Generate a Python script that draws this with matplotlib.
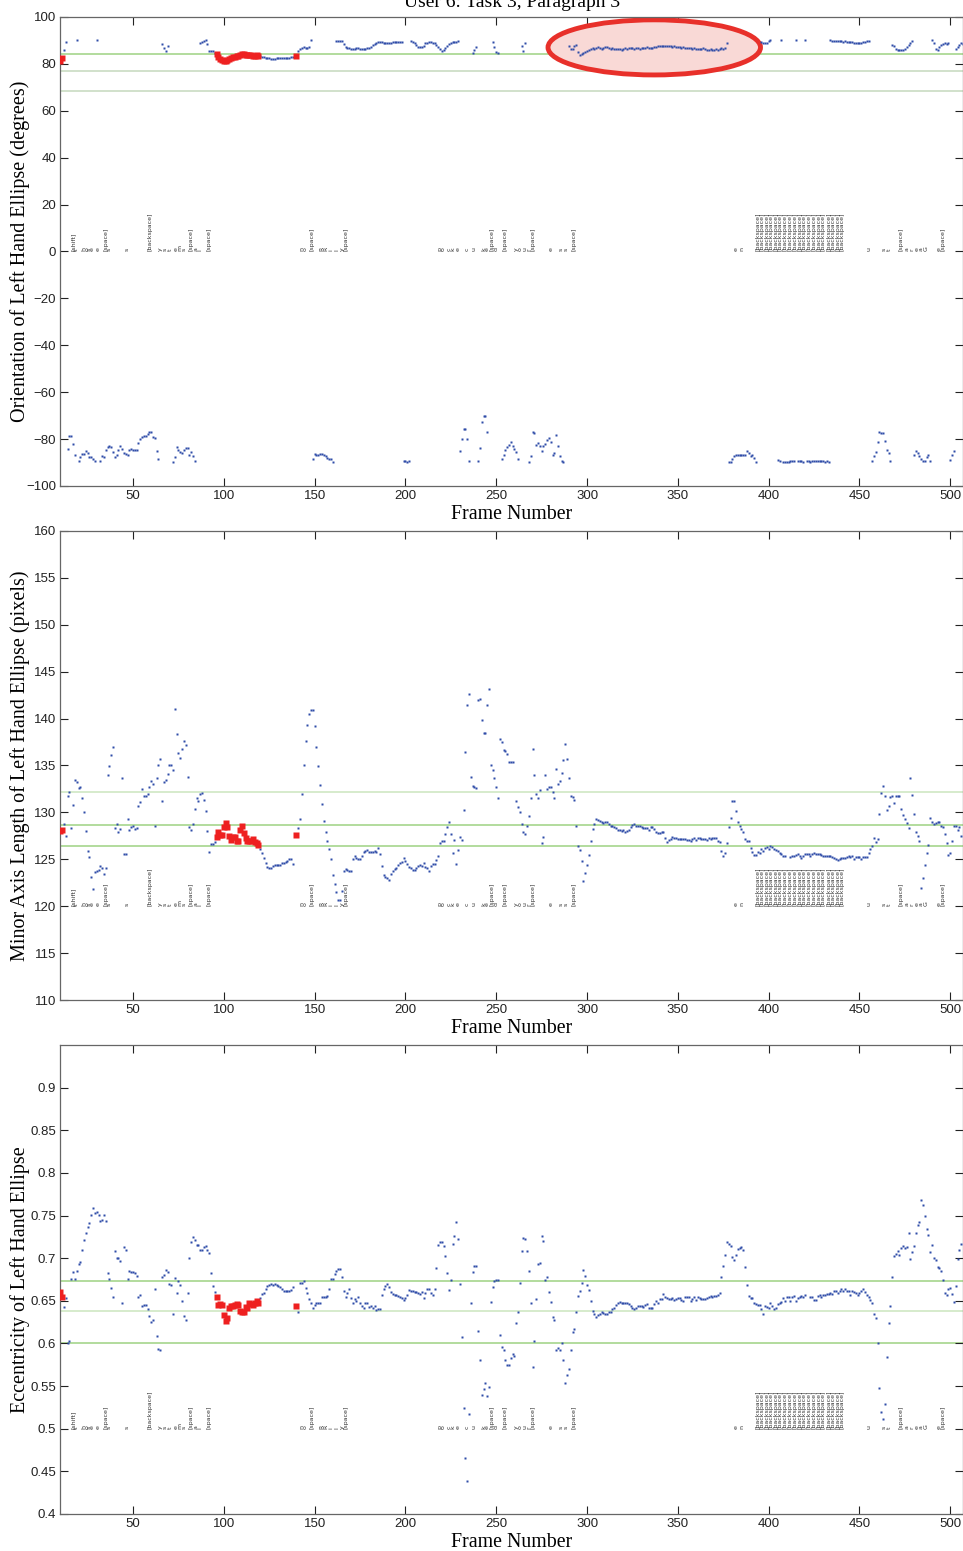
import numpy as np
import matplotlib
matplotlib.use('Agg')
import matplotlib.pyplot as plt
from matplotlib.patches import Ellipse

# ---------------- data ----------------
title = "User 6: Task 3, Paragraph 3"
x_label = "Frame Number"
x_ticks = [50, 100, 150, 200, 250, 300, 350, 400, 450, 500]

# frames drawn as enlarged red squares
red_frames = [10, 11] + list(range(96, 120)) + [140]

# orientation (degrees): (first frame, consecutive values)
orient_segments = [
    (10, [81.0, 82.5, 85.9, 89.5]),
    (14, [-84.2, -78.9, -78.6, -82.0, -87.0]),
    (19, [90.0]),
    (20, [-89.2, -87.6, -86.3, -86.2, -85.2, -85.9, -87.6, -87.6, -88.7, -89.2]),
    (30, [90.0]),
    (32, [-89.2, -87.3, -87.6, -84.5, -83.5, -82.8, -83.5, -85.5, -87.6, -86.8, -84.8, -82.8,
          -84.2, -85.9, -86.2, -86.6, -84.8, -84.2, -84.5, -84.5, -84.5, -81.7, -80.0, -79.2,
          -78.9, -78.6, -77.9, -77.2, -77.2, -79.2, -79.4, -85.2, -88.7]),
    (66, [88.5, 86.7, 85.5, 87.6]),
    (72, [-89.9, -87.6, -83.4, -84.5, -85.5, -85.9, -84.8, -83.8, -83.8, -86.6, -85.6, -87.3, -89.2]),
    (87, [89.0, 89.1, 89.6, 90.2, 88.4, 85.5, 85.5, 85.3, 84.8]),
    (96, [84.0, 83.0, 82.2, 81.5, 81.2, 81.3, 81.7, 82.1, 82.5, 82.8, 83.1, 83.3, 83.5, 83.8,
          84.3, 84.0, 83.6, 83.6, 83.8, 83.7, 83.4, 83.4, 83.6, 83.3]),
    (120, [83.2, 83.0, 82.8, 82.6, 82.4, 82.3, 82.1, 82.0, 82.2, 82.4, 82.5, 82.3, 82.3, 82.5,
           82.4, 82.6, 82.4, 82.7, 83.0]),
    (140, [83.4, 85.5, 86.2, 86.8, 87.0, 86.8, 86.9, 87.2, 90.2]),
    (149, [-88.7, -86.2, -86.6, -86.6, -86.3, -86.3, -87.0, -87.3, -88.0, -88.4, -88.4, -89.6]),
    (162, [89.8, 89.8, 89.8, 89.6, 88.5, 87.3, 86.8, 86.6, 86.3, 86.2, 86.5, 86.6, 86.6, 86.4,
           86.3, 86.3, 86.5, 86.6, 86.9, 87.3, 88.0, 88.6, 89.0, 89.3, 89.4, 89.4, 89.0, 88.7,
           88.7, 88.9, 89.0, 89.1, 89.1, 89.1, 89.2, 89.2, 89.2]),
    (199, [-89.4, -89.4, -89.6, -89.4]),
    (203, [89.6, 89.2, 88.7, 88.0, 87.3, 87.0, 87.0, 87.8, 88.7, 89.0, 89.2, 89.4, 89.0, 88.7,
           88.2, 87.3, 86.5, 85.5, 86.0, 86.6, 87.5, 88.3, 88.8, 89.2, 89.4, 89.5, 89.6]),
    (230, [-85.2, -80.0, -75.6, -75.6, -80.0, -89.4]),
    (237, [84.4, 86.0, 87.3]),
    (240, [-89.4, -83.8, -72.8, -70.0, -70.0, -77.0]),
    (248, [89.4, 87.3, 85.2, 84.8]),
    (253, [-88.7, -86.6, -84.5, -83.5, -82.4, -81.4, -82.8, -84.2, -85.6, -88.7]),
    (264, [87.6, 85.5, 89.0]),
    (268, [-89.6, -87.3, -76.9, -77.5, -82.4, -81.7, -82.8, -85.2, -83.1, -82.0, -80.3, -79.6,
           -81.3, -86.6, -85.9, -78.2, -83.1, -87.3, -89.4, -89.6]),
    (290, [87.6, 86.2, 86.5, 87.6, 88.0, 85.0, 83.6, 84.0, 84.5, 85.0, 85.5, 86.0, 86.5, 86.8,
           86.3, 86.6, 87.0, 86.7, 86.4, 86.8, 87.3, 87.0, 86.8, 86.5, 86.7, 86.4, 86.2, 86.5,
           86.3, 86.1, 86.4, 86.6, 86.3, 86.6, 86.9, 86.7, 86.5, 86.8, 86.6, 86.4, 86.6, 86.9,
           86.7, 87.0, 86.8, 86.6, 86.8, 87.0, 87.2, 87.5, 87.8, 87.6, 87.8, 87.7, 87.6, 87.8,
           87.5, 87.3, 87.5, 87.2, 87.0, 87.2, 86.9, 87.1, 86.8, 86.6, 86.9, 86.7, 86.5, 86.7,
           86.4, 86.2, 86.5, 86.3, 86.6, 86.4, 86.1, 85.9, 86.2, 85.8, 86.0, 86.3, 86.1, 86.4,
           86.6, 86.5, 86.8, 89.0]),
    (378, [-89.6, -89.6, -88.7, -87.3, -87.0, -86.6, -86.6, -87.0, -87.0, -87.0, -84.9, -85.9,
           -87.3, -87.0, -88.0, -89.7]),
    (396, [89.5, 89.0, 88.7, 89.0, 89.8, 90.0]),
    (405, [-89.0, -89.5]),
    (407, [90.0]),
    (408, [-89.6, -89.8, -89.6, -89.7, -89.5, -89.3, -89.5]),
    (415, [90.0]),
    (416, [-89.3, -89.2, -89.5, -89.6]),
    (420, [90.0]),
    (421, [-89.5, -89.3, -89.6, -89.4, -89.2, -89.3, -89.5, -89.3, -89.2, -89.4, -89.6, -89.5, -89.8]),
    (434, [90.0, 89.8, 89.8, 89.7, 89.8, 89.6, 89.6, 89.5, 89.6, 89.4, 89.4, 89.3, 89.2, 89.0,
           88.8, 88.7, 88.9, 89.0, 89.2, 89.4, 89.6, 89.8]),
    (457, [-89.2, -87.3, -85.6, -81.3, -77.0, -77.5, -77.5, -81.0, -84.8, -85.9, -89.4]),
    (468, [88.2, 87.5, 86.5, 86.0, 85.7, 85.7, 85.8, 86.5, 87.2, 88.0, 89.0, 89.8]),
    (480, [-87.0, -85.2, -85.9, -87.3, -88.7, -89.4, -89.2, -87.7, -86.6, -89.4]),
    (490, [90.0, 88.7, 86.5, 85.7, 87.3, 88.2, 88.5, 88.7, 88.5, 88.7]),
    (500, [-89.0, -86.6, -85.2]),
    (503, [86.5, 87.3, 88.0, 89.0, 88.5]),
]

# minor axis length (pixels)
minor_segments = [
    (10, [128.0, 128.1, 128.8, 127.5, 131.7, 132.2, 128.3, 130.8, 133.5, 133.2, 132.6, 132.7,
          131.5, 130.0, 128.0, 125.9, 125.2, 123.1, 121.8, 123.6, 123.8, 123.9, 124.3, 124.1,
          123.4, 124.1, 134.0, 134.9, 136.1, 137.0, 128.3, 128.8, 127.9, 128.2, 133.7, 125.6,
          125.6, 129.3, 128.1, 128.4, 128.5, 128.2, 128.3, 130.7, 131.1, 132.5, 131.8, 131.7,
          132.0, 132.7, 133.3, 133.0, 128.5, 133.7, 135.0, 135.7, 131.2, 133.2, 133.5, 134.1,
          135.0, 135.1, 134.5, 141.0, 138.4, 136.3, 135.8, 136.8, 137.6, 137.2, 133.8, 128.4,
          128.1, 128.8, 130.4, 131.5, 131.2, 132.0, 132.1, 131.3, 130.1, 128.0, 125.8, 126.6,
          126.6, 126.8]),
    (96, [127.4, 127.9, 127.6, 127.6, 128.4, 128.9, 128.4, 127.5, 127.1, 127.4, 127.4, 127.0,
          127.0, 128.1, 128.5, 127.8, 127.3, 127.0, 127.0, 126.9, 127.2, 126.8, 126.7, 126.5]),
    (120, [126.1, 125.7, 125.1, 124.6, 124.2, 124.1, 124.1, 124.3, 124.4, 124.4, 124.4, 124.4,
           124.6, 124.6, 124.7, 124.8, 125.0, 125.0, 124.5]),
    (140, [127.6, 128.3, 129.3, 132.0, 135.0, 137.6, 139.3, 140.5, 140.9, 140.9, 139.2, 137.0,
           134.9, 132.9, 130.9, 129.1, 127.9, 127.0, 126.1, 125.0, 123.3, 122.4, 121.5, 120.7,
           120.7, 121.6, 123.7, 124.0, 123.9, 123.8, 123.8, 125.0, 125.4, 125.1, 125.0]),
    (175, [125.0, 125.4, 125.8, 125.9, 126.0, 125.8, 125.8, 125.8, 125.9, 125.8, 126.2, 125.6,
           124.3, 123.3, 123.1, 123.0, 122.8, 123.4, 123.8, 124.0, 124.1, 124.4, 124.6, 124.7,
           125.1, 124.8, 124.5, 124.2, 124.1, 123.9, 123.9, 124.1, 124.3, 124.4, 124.3, 124.6,
           124.2, 124.1, 123.7, 124.3, 124.5, 124.5, 124.9, 125.3, 126.7, 127.0, 127.0, 127.7,
           128.4, 129.0, 127.7, 125.7, 127.1, 124.5, 126.0, 127.4, 127.1, 130.3, 136.4, 141.4,
           142.6, 133.8, 132.8, 132.7, 132.6, 142.0, 142.1, 139.9, 138.5, 138.5, 141.5, 143.2,
           135.1, 134.5, 133.7, 132.7, 131.5, 137.8, 137.5, 136.7, 136.5, 136.2, 135.4, 135.4,
           135.4]),
    (261, [131.2, 130.6, 130.0, 128.8, 127.9, 127.7, 128.5, 129.6, 131.5, 136.8, 134.0, 132.0,
           131.5, 132.4, 126.7, 127.4, 134.0, 132.5, 132.7, 132.7, 132.2, 131.5, 134.6, 133.0,
           133.4, 134.2, 135.6, 137.3, 135.7, 133.7, 131.8, 131.6, 131.3, 128.5, 126.4, 126.0,
           124.8, 122.7, 123.5, 124.4, 125.5, 126.9, 128.2, 128.8, 129.3, 129.2, 129.1, 129.0,
           128.9, 129.0, 129.0, 128.8, 128.5, 128.6, 128.4, 128.3, 128.1, 128.1, 128.0, 128.1,
           127.9, 128.0, 128.1, 128.4, 128.7, 128.8, 128.6, 128.5, 128.5, 128.4, 128.3, 128.3,
           128.3, 128.1, 128.4, 128.4, 128.2, 127.9, 127.8]),
    (340, [127.8, 127.9, 127.9, 127.3, 126.8, 127.1, 127.2, 127.4, 127.3, 127.3, 127.2, 127.2,
           127.2, 127.2, 127.2, 127.1, 127.1, 127.0, 127.2, 127.3, 127.1, 127.3, 127.3, 127.2,
           127.2, 127.2, 127.1, 127.3, 127.2, 127.3, 127.3, 127.3, 127.0, 126.8, 125.9, 125.4,
           125.7, 126.7, 128.4, 129.4, 131.2, 131.2, 130.1, 129.0, 128.6, 128.2, 127.9, 127.2,
           126.9, 126.9, 126.2, 125.8, 125.5, 125.5, 125.8, 125.7, 126.1, 125.9, 126.2, 126.3,
           126.1, 126.4, 126.3, 126.1, 126.0, 125.9, 125.7, 125.6, 125.4, 125.3]),
    (412, [125.2, 125.3, 125.4, 125.5, 125.6, 125.4, 125.1, 125.4, 125.6, 125.6, 125.6, 125.4,
           125.6, 125.7, 125.6, 125.6, 125.6, 125.5, 125.3, 125.3, 125.3, 125.3, 125.3, 125.2,
           125.1, 125.0, 124.9, 125.0, 125.1, 125.1, 125.1, 125.2, 125.3, 125.2, 125.4, 125.0,
           125.2, 125.2, 125.2, 125.0, 125.2, 125.2, 125.2, 125.7, 126.1, 126.4, 127.3, 126.8,
           127.2, 129.8, 132.1, 132.8, 131.8, 130.3, 130.7, 131.6, 131.8, 131.0, 131.8, 131.8,
           131.7, 130.4, 129.7, 129.3, 128.9, 128.3, 133.7, 131.9, 129.8, 127.9, 127.5, 126.9,
           121.9, 123.0, 124.4, 125.7, 126.5, 129.4, 129.0, 128.8, 128.9, 129.0, 129.0, 128.5,
           128.4, 127.7, 126.7, 125.5, 125.7, 127.0, 128.5, 128.5, 128.1, 128.4, 127.5]),
]

# eccentricity
ecc_segments = [
    (10, [0.660, 0.655, 0.643, 0.653, 0.601, 0.603, 0.675, 0.684, 0.676, 0.685, 0.693, 0.696,
          0.710, 0.721, 0.729, 0.737, 0.741, 0.751, 0.759, 0.753, 0.754, 0.751, 0.743, 0.745,
          0.751, 0.744, 0.683, 0.676, 0.665, 0.655, 0.708, 0.700, 0.700, 0.697, 0.648, 0.713,
          0.710, 0.676, 0.685, 0.684, 0.684, 0.683, 0.679, 0.655, 0.657, 0.644, 0.645, 0.645,
          0.640, 0.632, 0.625, 0.627, 0.664, 0.609, 0.594, 0.592, 0.678, 0.680, 0.686, 0.684,
          0.670, 0.669, 0.634, 0.677, 0.659, 0.673, 0.669, 0.650, 0.632, 0.628, 0.659, 0.700,
          0.719, 0.725, 0.721, 0.716, 0.715, 0.710, 0.709, 0.713, 0.714, 0.710, 0.706, 0.683,
          0.667, 0.660]),
    (96, [0.654, 0.645, 0.646, 0.645, 0.633, 0.626, 0.630, 0.641, 0.644, 0.644, 0.645, 0.646,
          0.645, 0.638, 0.637, 0.637, 0.643, 0.642, 0.647, 0.646, 0.645, 0.647, 0.650, 0.648]),
    (120, [0.653, 0.658, 0.659, 0.664, 0.667, 0.668, 0.670, 0.668, 0.670, 0.668, 0.667, 0.666,
           0.664, 0.662, 0.662, 0.662, 0.662, 0.663, 0.666]),
    (140, [0.644, 0.637, 0.671, 0.671, 0.673, 0.665, 0.659, 0.652, 0.648, 0.642, 0.645, 0.647,
           0.647, 0.647, 0.655, 0.655, 0.655, 0.656, 0.664, 0.675, 0.675, 0.682, 0.685, 0.687,
           0.687, 0.678, 0.661, 0.655, 0.659, 0.664, 0.653, 0.648, 0.652, 0.650, 0.654, 0.648,
           0.644, 0.642, 0.647, 0.648, 0.643, 0.644, 0.641, 0.644, 0.639, 0.640, 0.640, 0.657,
           0.664, 0.667, 0.670, 0.666, 0.660, 0.658, 0.657, 0.657, 0.656, 0.654, 0.653, 0.651,
           0.653, 0.657, 0.663, 0.661, 0.661, 0.660, 0.660, 0.659, 0.658, 0.660, 0.653, 0.659,
           0.664, 0.664, 0.659, 0.657, 0.664, 0.689, 0.716, 0.719, 0.719, 0.714, 0.702, 0.683,
           0.663, 0.674, 0.717, 0.726, 0.742, 0.722, 0.670, 0.607, 0.524, 0.466, 0.439, 0.517,
           0.647, 0.684, 0.691, 0.691, 0.615, 0.581, 0.540, 0.547, 0.554, 0.538, 0.549, 0.649,
           0.666, 0.673, 0.674, 0.674]),
    (252, [0.610, 0.596, 0.592, 0.580, 0.575, 0.575, 0.583, 0.588, 0.585, 0.624, 0.637, 0.671,
           0.708, 0.724, 0.722, 0.708, 0.685, 0.648, 0.572, 0.603, 0.652, 0.693, 0.694, 0.726,
           0.720, 0.674, 0.678, 0.660, 0.649, 0.631, 0.628, 0.592, 0.595, 0.592, 0.601, 0.581,
           0.554, 0.563, 0.570, 0.592, 0.613, 0.617, 0.637, 0.656, 0.662, 0.671, 0.686, 0.679,
           0.668, 0.663, 0.650, 0.638, 0.635, 0.631, 0.633, 0.634, 0.637, 0.636, 0.635, 0.635,
           0.637, 0.637, 0.640, 0.642, 0.645, 0.647, 0.649, 0.648, 0.647, 0.647, 0.648, 0.646,
           0.644, 0.642, 0.640, 0.642, 0.644, 0.644, 0.644, 0.643, 0.645, 0.646, 0.642, 0.642,
           0.642, 0.646, 0.650, 0.648, 0.652, 0.652, 0.658, 0.655, 0.653, 0.652, 0.652, 0.653,
           0.651, 0.652, 0.653, 0.653, 0.651, 0.650, 0.654, 0.654, 0.655, 0.650, 0.652, 0.654,
           0.651, 0.654, 0.653, 0.652, 0.652, 0.652, 0.653, 0.655, 0.656, 0.655, 0.656, 0.656,
           0.657, 0.659, 0.678, 0.691, 0.704, 0.719, 0.717, 0.714, 0.701, 0.698, 0.704, 0.711,
           0.712, 0.713, 0.709, 0.690, 0.668, 0.656, 0.653, 0.653, 0.647, 0.646, 0.645, 0.645,
           0.640, 0.634, 0.644, 0.643, 0.642, 0.647, 0.644, 0.640, 0.642, 0.646, 0.647, 0.649,
           0.653, 0.650, 0.654, 0.655, 0.650, 0.655, 0.656, 0.650, 0.653, 0.655, 0.656, 0.655,
           0.657]),
    (423, [0.654, 0.655, 0.651, 0.651, 0.656, 0.657, 0.655, 0.657, 0.657, 0.658, 0.658, 0.659,
           0.658, 0.662, 0.662, 0.659, 0.662, 0.664, 0.662, 0.664, 0.662, 0.661, 0.657, 0.662,
           0.660, 0.659, 0.657, 0.659, 0.661, 0.664, 0.660, 0.657, 0.655, 0.651, 0.647, 0.635,
           0.630, 0.601, 0.548, 0.520, 0.511, 0.529, 0.584, 0.624, 0.644, 0.678, 0.703, 0.705,
           0.708, 0.704, 0.712, 0.714, 0.712, 0.713, 0.730, 0.699, 0.707, 0.714, 0.729, 0.739,
           0.742, 0.768, 0.762, 0.749, 0.734, 0.727, 0.707, 0.715, 0.700, 0.698, 0.690, 0.688,
           0.685, 0.674, 0.659, 0.657, 0.664, 0.665, 0.658, 0.649, 0.667, 0.699, 0.710, 0.717]),
]

orient_levels = [84.2, 77.0, 68.4]
minor_levels = [132.2, 128.7, 126.4]
ecc_levels = [0.673, 0.638, 0.600]

# keystroke annotations
key_frames = [17, 19, 23, 24.5, 26, 27.5, 31, 35, 37, 47, 59.5, 65, 67.5, 70.5, 74, 76, 78, 82,
              84.5, 87, 92, 143, 145, 148.5, 154, 156, 159, 162, 165, 167,
              219, 221, 224, 226, 229, 234, 237.5, 243, 245, 247.5, 250, 255, 261, 263, 266, 268,
              270, 280, 286, 288.5, 293,
              382, 385.5, 394, 396.5, 399, 401.5, 404, 406.5, 409, 412, 414.5, 417, 419.5, 422,
              425, 427.5, 430, 433, 435.5, 438, 440.5, 455, 463.5, 466.5, 473, 476.5, 479, 481.5,
              484, 486.5, 494, 496, 498.5]
key_labels = ['[shift]', 't', 'h', 'o', 's', 'e', 'e', '[space]', 's', 's', '[backspace]', 'y',
              's', 't', 'e', 'm', 's', '[space]', 'a', 'l', '[space]', 'n', 'o', '[space]', 'R',
              'R', 'i', 'l', 'y', '[space]',
              'p', 'o', 'c', 'k', 'e', 'c', 'u', 'k', 'e', '[space]', 'd', '[space]', 'y', 'o',
              'u', 'r', '[space]', 'e', 's', 's', '[space]',
              'e', 'n'] + ['[backspace]'] * 19 + ['u', 's', 't', '[space]', 'a', 'r', 'e', 'a',
              'G', 'e', '[space]']

# ---------------- drawing ----------------
BLUE = '#2f4ca8'
RED = '#ee2020'
GREEN = '#a6d58c'
LIGHT_GREEN = '#cfe8c4'
SERIF = ['Liberation Serif', 'DejaVu Serif']
SANS = ['Liberation Sans', 'DejaVu Sans']
KEYFONT = ['DejaVu Sans']

plt.rcParams['font.family'] = SANS

fig = plt.figure(figsize=(9.63, 15.51), dpi=100)

def expand(segs):
    xs, ys = [], []
    for start, vals in segs:
        xs.extend(range(start, start + len(vals)))
        ys.extend(vals)
    return np.array(xs, float), np.array(ys, float)

panels = [
    (orient_segments, orient_levels, [GREEN, '#c9dcc2', '#c9dcc2'], (-100, 100),
     np.arange(-100, 101, 20), "Orientation of Left Hand Ellipse (degrees)", 0.0, [0.6867, 0.3024]),
    (minor_segments, minor_levels, [LIGHT_GREEN, GREEN, GREEN], (110, 160),
     np.arange(110, 161, 5), "Minor Axis Length of Left Hand Ellipse (pixels)", 120.0, [0.35525, 0.3024]),
    (ecc_segments, ecc_levels, [GREEN, LIGHT_GREEN, GREEN], (0.4, 0.95),
     np.round(np.arange(0.4, 0.91, 0.05), 2), "Eccentricity of Left Hand Ellipse", 0.5, [0.02386, 0.3024]),
]

for i, (segs, levels, lcols, ylim, yticks, ylab, key_y, (bot, h)) in enumerate(panels):
    ax = fig.add_axes([0.0627, bot, 0.9373, h])
    x, y = expand(segs)
    for lv, lc in zip(levels, lcols):
        ax.axhline(lv, color=lc, lw=1.2, zorder=1)
    if i == 0:
        ell = Ellipse((337, 87), 117, 23.5, facecolor='#f9d9d6', edgecolor='#e8302a',
                      lw=3.5, zorder=2)
        ax.add_patch(ell)
    ax.plot(x, y, 's', ms=2.1, color=BLUE, mec='none', zorder=3)
    rmask = np.isin(x, red_frames)
    ax.plot(x[rmask], y[rmask], 's', ms=5.0, color=RED, mec='none', zorder=4)
    for kf, kl in zip(key_frames, key_labels):
        ax.text(kf, key_y, kl, rotation=90, ha='center', va='bottom', fontsize=4.5,
                family=KEYFONT, color='#333333', zorder=5)
    ax.set_xlim(10, 507)
    ax.set_ylim(*ylim)
    ax.set_xticks(x_ticks)
    ax.set_yticks(yticks)
    if i == 2:
        ax.set_yticklabels([f"{t:g}" for t in yticks])
    ax.tick_params(direction='in', length=5.5, width=0.8, top=True, right=True,
                   labelsize=9.5, colors='#222222', pad=3)
    for s in ax.spines.values():
        s.set_color('#666666')
        s.set_linewidth(0.9)
    ax.set_xlabel(x_label, family=SERIF, fontsize=14.3, labelpad=2)
    ax.set_ylabel(ylab, family=SERIF, fontsize=14.5)
    ax.yaxis.set_label_coords(-0.034, 0.5)

fig.text(0.5317, 1 - 7 / 1551, title, family=SERIF, fontsize=14, ha='center', va='baseline')

fig.savefig('out.png', dpi=100)
